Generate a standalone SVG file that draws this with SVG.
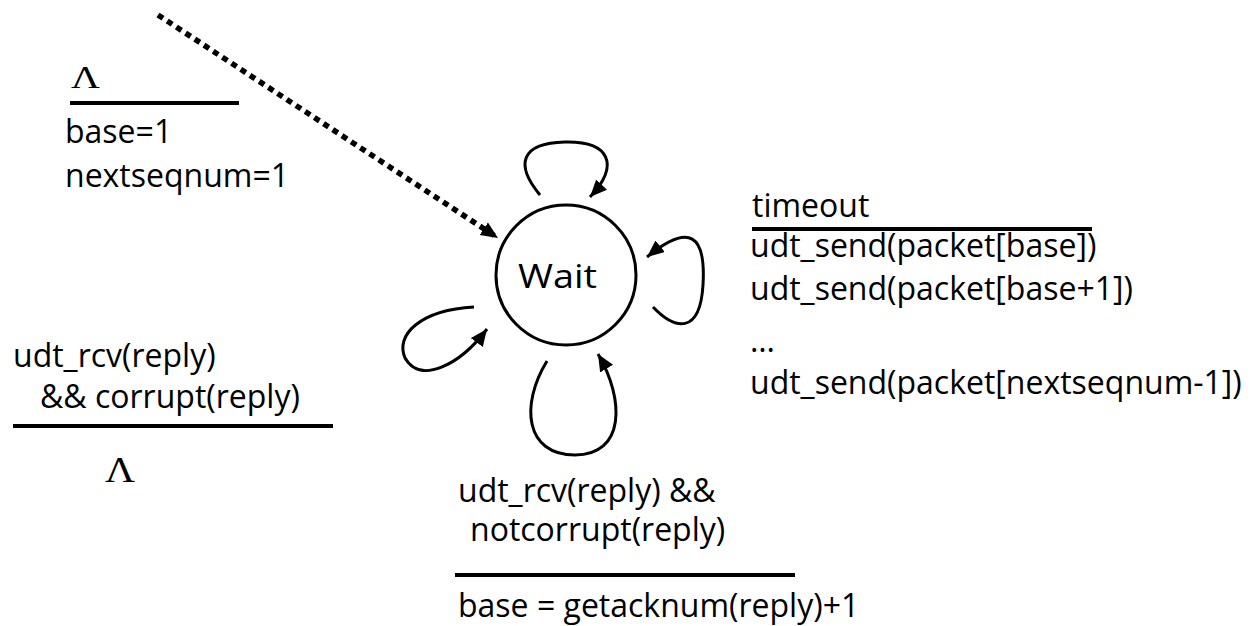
<svg xmlns="http://www.w3.org/2000/svg" width="1260" height="626" viewBox="0 0 1260 626">
<style>
.t{font-family:"Open Sans","Liberation Sans",sans-serif;font-size:32px;fill:#000}
.lam{font-family:"Liberation Serif","DejaVu Serif",serif;fill:#000}
.bar{stroke:#000;stroke-width:4;fill:none}
.loop{stroke:#000;stroke-width:3;fill:none}
</style>
<defs>
<marker id="ah" markerUnits="userSpaceOnUse" markerWidth="20" markerHeight="16" refX="17" refY="7.5" orient="auto">
<path d="M0,0 L17,7.5 L0,15 z" fill="#000"/>
</marker>
</defs>
<rect width="1260" height="626" fill="#fff"/>
<g id="wait">
<circle cx="566" cy="275" r="70" fill="#fff" stroke="#000" stroke-width="3"/>
<text class="t" x="518" y="288" font-size="35" textLength="79" lengthAdjust="spacingAndGlyphs">Wait</text>
</g>
<g id="connectors">
<path d="M158,15 L498,238" stroke="#000" stroke-width="5.5" stroke-dasharray="6 5" fill="none" marker-end="url(#ah)"/>
<path class="loop" d="M540,195 C515,165 520,143 565,142 C610,141 620,165 590,197" marker-end="url(#ah)"/>
<path class="loop" d="M653,307 C675,330 700,335 703,285 C706,235 690,222 647,257" marker-end="url(#ah)"/>
<path class="loop" d="M474,307 C420,310 395,335 405,358 C420,385 460,365 487,329" marker-end="url(#ah)"/>
<path class="loop" d="M547,361 C520,405 525,455 575,455 C625,455 625,400 598,354" marker-end="url(#ah)"/>
</g>
<g id="label-init">
<text class="lam" transform="translate(71,88) scale(1.25,1)" font-size="32">Λ</text>
<line class="bar" x1="70" y1="103" x2="239" y2="103"/>
<text class="t" x="65" y="143">base=1</text>
<text class="t" x="65" y="187">nextseqnum=1</text>
</g>
<g id="label-timeout">
<text class="t" x="752" y="217">timeout</text>
<line class="bar" x1="752" y1="229" x2="1092" y2="229"/>
<text class="t" x="750" y="257" font-size="32.5">udt_send(packet[base])</text>
<text class="t" x="750" y="300" font-size="32.5">udt_send(packet[base+1])</text>
<text class="t" x="750" y="352">…</text>
<text class="t" x="750" y="394" font-size="32.5">udt_send(packet[nextseqnum-1])</text>
</g>
<g id="label-corrupt">
<text class="t" x="13" y="367">udt_rcv(reply)</text>
<text class="t" x="40" y="408">&amp;&amp; corrupt(reply)</text>
<line class="bar" x1="13" y1="426" x2="333" y2="426"/>
<text class="lam" transform="translate(105,482) scale(1.15,1)" font-size="36">Λ</text>
</g>
<g id="label-ack">
<text class="t" x="458" y="502">udt_rcv(reply) &amp;&amp;</text>
<text class="t" x="470" y="541">notcorrupt(reply)</text>
<line class="bar" x1="455" y1="575" x2="795" y2="575" stroke-width="6"/>
<text class="t" x="458" y="617">base = getacknum(reply)+1</text>
</g>
</svg>
